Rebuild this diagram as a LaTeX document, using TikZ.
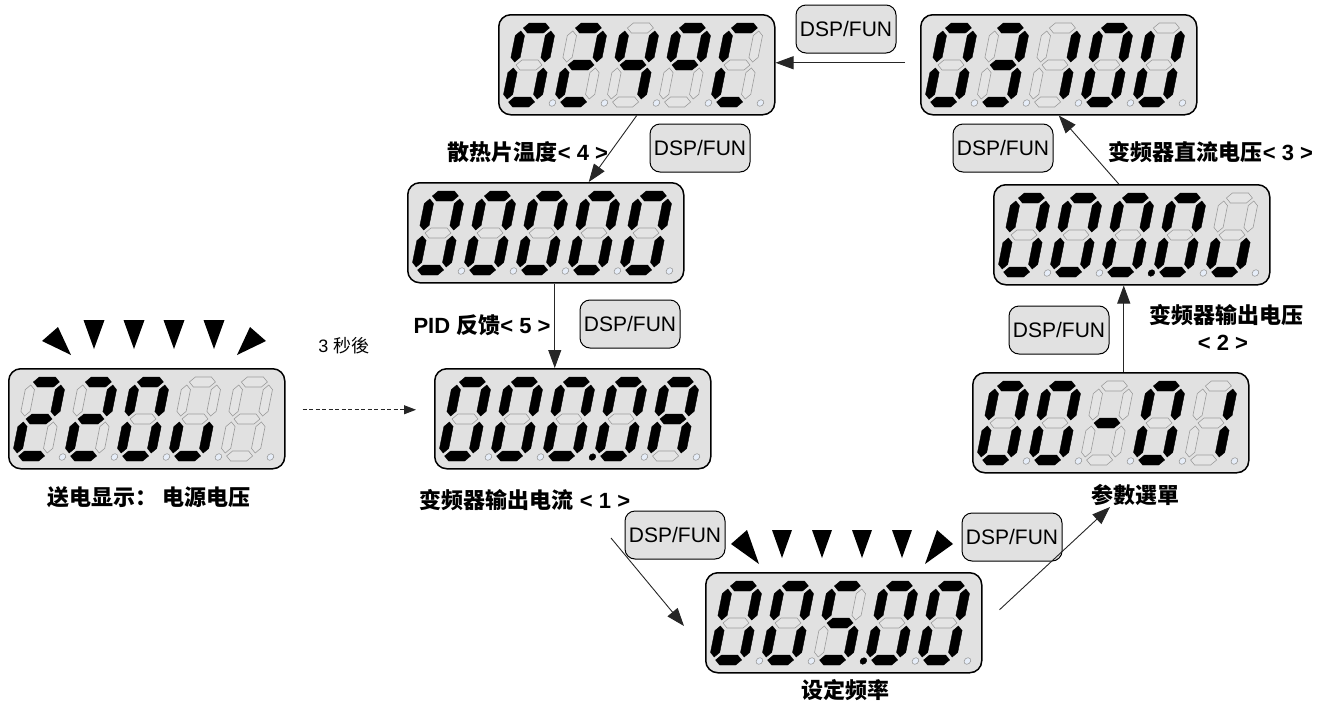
\documentclass[tikz,border=0pt]{standalone}
\usepackage{fontspec}
\setmainfont{Liberation Sans}
\newfontfamily\cjk{Noto Sans CJK SC}
\usetikzlibrary{arrows.meta,calc}
\definecolor{boxfill}{HTML}{E1E1E1}
\definecolor{offfill}{HTML}{E4E4E4}
\definecolor{offdraw}{HTML}{9C9C9C}
\definecolor{dpoff}{HTML}{E6EDF8}
\definecolor{keyfill}{HTML}{E1E1E1}
\tikzset{
 seg1/.style={fill=black, draw=black, line width=0.4pt},
 seg0/.style={fill=offfill, draw=offdraw, line width=0.6pt},
 dp1/.style={fill=black, draw=black, line width=0.4pt},
 dp0/.style={fill=dpoff, draw=offdraw, line width=0.6pt},
 display/.style={draw=black, line width=1.5pt, fill=boxfill, rounded corners=12pt, minimum width=276pt, minimum height=100pt, inner sep=0pt, anchor=north west},
 key/.style={draw=black, line width=1pt, fill=keyfill, rounded corners=10pt, minimum width=100pt, minimum height=48pt, inner sep=0pt, font=\fontsize{21}{24}\selectfont},
 lbl/.style={font=\fontsize{22}{26}\selectfont\bfseries, inner sep=0pt},
 small/.style={font=\fontsize{18}{21}\selectfont, inner sep=0pt},
 conn/.style={draw=black!85, line width=0.9pt, -{Triangle[length=18pt,width=13pt]}},
 dconn/.style={draw=black!85, line width=0.9pt, dash pattern=on 4pt off 2.5pt, -{Triangle[length=12pt,width=9pt]}},
 blink/.style={fill=black, draw=none},
}
\newcommand\hseg[2]{\path[seg#1] (-13,#2) -- (-8,{#2-5}) -- (8,{#2-5}) -- (13,#2) -- (8,{#2+5}) -- (-8,{#2+5}) -- cycle;}
\newcommand\vseg[4]{\path[seg#1] (#2,#3) -- ({#2+4.6},{#3+4.6}) -- ({#2+4.6},{#4-4.6}) -- (#2,#4) -- ({#2-4.6},{#4-4.6}) -- ({#2-4.6},{#3+4.6}) -- cycle;}
\def\drawsegs#1#2#3#4#5#6#7#8\relax{%
 \hseg{#1}{-37}%
 \vseg{#2}{15}{-34}{-3}%
 \vseg{#3}{15}{3}{34}%
 \hseg{#4}{37}%
 \vseg{#5}{-15}{3}{34}%
 \vseg{#6}{-15}{-34}{-3}%
 \hseg{#7}{0}%
 \path[dp#8] (31,38) circle[radius=3.3];%
}
\newcommand\dig[3]{\begin{scope}[shift={(#1,#2)}, xslant=0.2]\drawsegs#3\relax\end{scope}}
\newcommand\disp[8]{%
 \node[display] (#1) at (#2,#3) {};
 \dig{#2+31}{#3+51}{#4}\dig{#2+83}{#3+51}{#5}\dig{#2+135}{#3+51}{#6}\dig{#2+187}{#3+51}{#7}\dig{#2+239}{#3+51}{#8}}
\begin{document}
\begin{tikzpicture}[x=1pt,y=-1pt]
\useasboundingbox (0,0) rectangle (1333,707);
% displays
\disp{dPow}{8}{368}{11011010}{11011010}{11111100}{00111000}{00000000}
\disp{dCur}{434}{368}{11111100}{11111100}{11111101}{11111100}{11101110}
\disp{dTemp}{498}{14}{11111100}{11011010}{01100110}{11000110}{10011100}
\disp{dDC}{920}{14}{11111100}{11110010}{01100000}{11111100}{01111100}
\disp{dVout}{993}{184}{11111100}{11111100}{11111101}{11111100}{00111000}
\disp{dPar}{972}{372}{11111100}{11111100}{00000010}{11111100}{01100000}
\disp{dFreq}{705}{572}{11111100}{11111100}{10110111}{11111100}{11111100}
\disp{dPid}{407}{182}{11111100}{11111100}{11111100}{11111100}{11111100}
% blinking marks
\path[blink] (42,341) -- (58,327) -- (71,355) -- cycle;
\foreach \x in {94,134,174,214} {\path[blink] (\x-10.5,320) -- (\x+10.5,320) -- (\x,349) -- cycle;}
\path[blink] (266,341) -- (250,327) -- (237,355) -- cycle;
\path[blink] (731,544) -- (747,530) -- (759,564) -- cycle;
\foreach \x in {782,822,862,902} {\path[blink] (\x-10,530) -- (\x+10,530) -- (\x,558) -- cycle;}
\path[blink] (953,544) -- (937,530) -- (925,564) -- cycle;
% keys
\node[key] (k1) at (846,29) {DSP/FUN};
\node[key] (k2) at (700,148) {DSP/FUN};
\node[key] (k3) at (1003,148) {DSP/FUN};
\node[key] (k4) at (630,324) {DSP/FUN};
\node[key] (k5) at (1059,330) {DSP/FUN};
\node[key] (k6) at (675,535) {DSP/FUN};
\node[key] (k7) at (1012,537) {DSP/FUN};
% labels
\node[lbl] (lPow) at (149,497) {{\cjk 送电显示：\ 电源电压}};
\node[small] (l3s) at (344,346) {3 {\cjk 秒後}};
\node[lbl] (lTemp) at (528,152) {{\cjk 散热片温度}< 4 >};
\node[lbl] (lPid) at (482,325) {PID {\cjk 反馈}< 5 >};
\node[lbl] (lCur) at (525,500) {{\cjk 变频器输出电流} < 1 >};
\node[lbl] (lFreq) at (845,690) {{\cjk 设定频率}};
\node[lbl] (lPar) at (1135,495) {{\cjk 参數選單}};
\node[lbl] (lVout) at (1226,315) {{\cjk 变频器输出电压}};
\node[lbl] (lVout2) at (1223,343) {< 2 >};
\node[lbl] (lDC) at (1211,152) {{\cjk 变频器直流电压}< 3 >};
% connectors
\coordinate (s7) at (611,538);
\coordinate (e7) at (684,626);
\coordinate (e8) at (1110,507);
\draw[dconn] ([xshift=17pt,yshift=9pt]dPow.east) -- ([xshift=-18pt,yshift=9pt]dCur.west);
\draw[conn] ([xshift=9pt]dPid.south) -- ([xshift=9pt]dPid.south |- dCur.north);
\draw[conn] (dTemp.south) -- ([xshift=43pt]dPid.north);
\draw[conn] ([xshift=-15pt,yshift=2pt]dDC.west) -- ([yshift=2pt]dTemp.east);
\draw[conn] ([xshift=-13pt]dVout.north) -- (dDC.south);
\draw[conn] ([xshift=13pt]dPar.north) -- ([xshift=13pt]dPar.north |- dVout.south);
\draw[conn] (s7) -- (e7);
\draw[conn] ([xshift=17pt,yshift=13pt]dFreq.east) -- (e8);
\end{tikzpicture}
\end{document}
